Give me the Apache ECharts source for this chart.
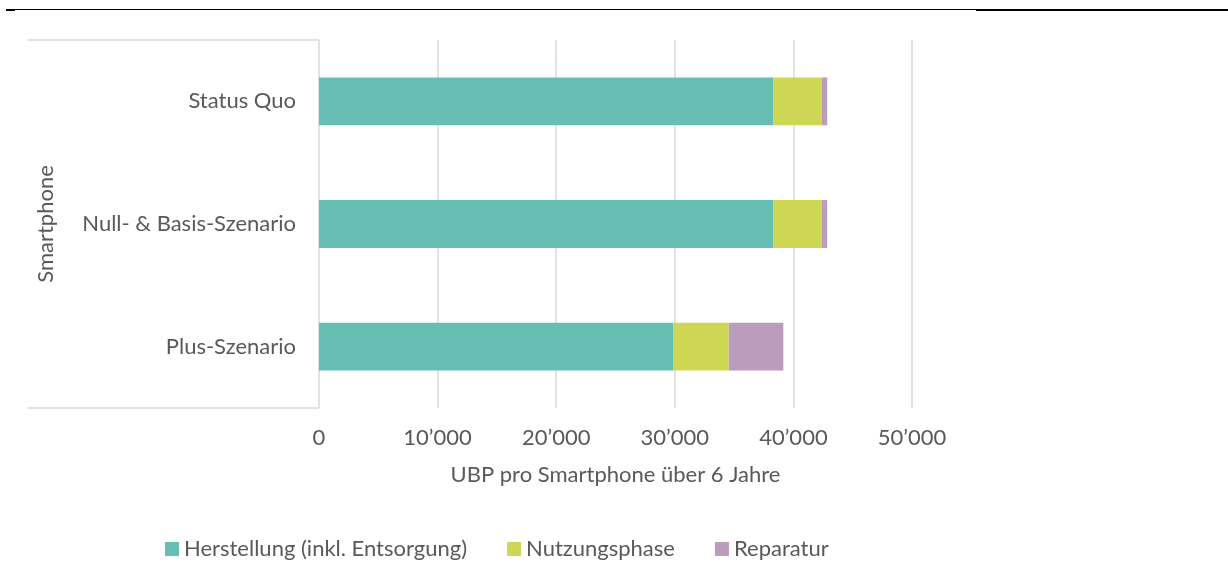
<!DOCTYPE html>
<html>
<head>
<meta charset="utf-8">
<script src="https://cdn.jsdelivr.net/npm/echarts@6/dist/echarts.min.js"></script>
<style>
html,body{margin:0;padding:0;background:#fff;}
#chart{width:1228px;height:562px;}
</style>
</head>
<body>
<div id="chart"></div>
<script>
const categories = ['Status Quo', 'Null- & Basis-Szenario', 'Plus-Szenario'];
const herstellung = [38300, 38300, 29900];
const nutzungsphase = [4100, 4100, 4650];
const reparatur = [450, 450, 4600];
const seriesNames = ['Herstellung (inkl. Entsorgung)', 'Nutzungsphase', 'Reparatur'];
const xTickLabels = ['0', '10’000', '20’000', '30’000', '40’000', '50’000'];
const xAxisTitle = 'UBP pro Smartphone über 6 Jahre';
const yAxisTitle = 'Smartphone';

const FONT = 'Lato';
const TXT = '#595959';
const GRID = '#d9d9d9';

const chart = echarts.init(document.getElementById('chart'));
chart.setOption({
  animation: false,
  textStyle: { fontFamily: FONT },
  grid: { left: 319, right: 316, top: 40, bottom: 154 },
  legend: {
    bottom: 0, left: 165, padding: 0,
    itemWidth: 14, itemHeight: 14, itemGap: 40,
    icon: 'rect',
    textStyle: { fontFamily: FONT, fontSize: 22, color: TXT, lineHeight: 26 },
    data: seriesNames
  },
  xAxis: {
    type: 'value', min: 0, max: 50000, interval: 10000,
    axisLine: { show: false }, axisTick: { show: false },
    splitLine: { show: true, lineStyle: { color: GRID, width: 1.5 } },
    axisLabel: {
      fontFamily: FONT, fontSize: 22, color: TXT, margin: 19,
      formatter: v => xTickLabels[Math.round(v / 10000)]
    },
    name: xAxisTitle, nameLocation: 'middle', nameGap: 56,
    nameTextStyle: { fontFamily: FONT, fontSize: 22, color: TXT }
  },
  yAxis: {
    type: 'category', data: categories, inverse: true,
    axisLine: { show: false }, axisTick: { show: false },
    axisLabel: { fontFamily: FONT, fontSize: 22, color: TXT, margin: 23 },
    name: yAxisTitle, nameLocation: 'middle', nameGap: 262,
    nameTextStyle: { fontFamily: FONT, fontSize: 22, color: TXT }
  },
  series: [
    { name: seriesNames[0], type: 'bar', stack: 'a', barWidth: '39%', data: herstellung, itemStyle: { color: '#67bfb3' } },
    { name: seriesNames[1], type: 'bar', stack: 'a', data: nutzungsphase, itemStyle: { color: '#cdd753' } },
    { name: seriesNames[2], type: 'bar', stack: 'a', data: reparatur, itemStyle: { color: '#bb9cbd' } }
  ],
  graphic: [
    { type: 'line', shape: { x1: 6, y1: 9.5, x2: 976, y2: 9.5 }, style: { stroke: '#000', lineWidth: 1 } },
    { type: 'line', shape: { x1: 6, y1: 10, x2: 15, y2: 10 }, style: { stroke: '#000', lineWidth: 2 } },
    { type: 'line', shape: { x1: 976, y1: 10, x2: 1228, y2: 10 }, style: { stroke: '#000', lineWidth: 2 } },
    { type: 'line', shape: { x1: 28, y1: 40, x2: 319, y2: 40 }, style: { stroke: GRID, lineWidth: 1.5 } },
    { type: 'line', shape: { x1: 28, y1: 408, x2: 319, y2: 408 }, style: { stroke: GRID, lineWidth: 1.5 } }
  ]
});
</script>
</body>
</html>
